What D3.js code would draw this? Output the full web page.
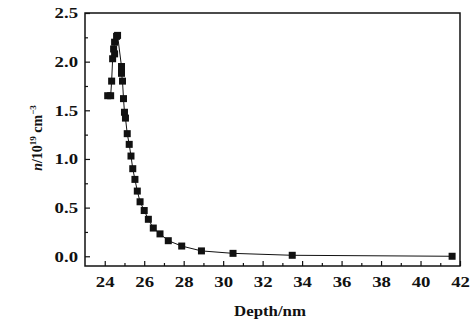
<!DOCTYPE html>
<html><head><meta charset="utf-8">
<script src="https://cdn.jsdelivr.net/npm/d3@7"></script>
<style>
html,body{margin:0;padding:0;background:#fff;}
text{font-family:"Liberation Serif","DejaVu Serif",serif;font-weight:bold;fill:#111;}
</style></head>
<body>
<svg id="c" width="472" height="322"></svg>
<script>
const depth = [24.15,24.3,24.35,24.4,24.5,24.45,24.5,24.6,24.65,24.85,24.85,24.9,24.95,25.0,25.05,25.14,25.24,25.33,25.42,25.53,25.65,25.79,26.0,26.21,26.46,26.8,27.22,27.9,28.9,30.5,33.5,41.6];
const conc  = [1.65,1.65,1.80,2.03,2.08,2.13,2.20,2.26,2.27,1.95,1.88,1.80,1.62,1.48,1.42,1.26,1.15,1.03,0.90,0.79,0.67,0.56,0.47,0.38,0.29,0.23,0.16,0.105,0.055,0.03,0.01,0.0];
const xTicks = [24,26,28,30,32,34,36,38,40,42];
const yTicks = [0.0,0.5,1.0,1.5,2.0,2.5];
const xMinor = [25,27,29,31,33,35,37,39,41];
const yMinor = [0.25,0.75,1.25,1.75,2.25];

const svg = d3.select("#c");
const L=85,R=460,T=13,B=266;
const x = d3.scaleLinear().domain([23,42]).range([L,R]);
const y = d3.scaleLinear().domain([-0.1,2.5]).range([B,T]);
const SX = 1.25;

// frame
svg.append("rect").attr("x",L).attr("y",T).attr("width",R-L).attr("height",B-T)
  .attr("fill","none").attr("stroke","#111").attr("stroke-width",1.5);

// bottom axis
const gx = svg.append("g").attr("transform",`translate(0,${B})`)
  .call(d3.axisBottom(x).tickValues(xTicks).tickSize(-5).tickPadding(10).tickFormat(d3.format("d")));
gx.select(".domain").remove();
gx.selectAll("line").attr("stroke","#111").attr("stroke-width",1.2);
gx.selectAll("text").attr("font-size",15).attr("font-family","Liberation Serif").attr("font-weight","bold")
  .attr("transform",`scale(${SX},1)`).attr("fill","#111");
svg.append("g").attr("transform",`translate(0,${B})`)
  .call(d3.axisBottom(x).tickValues(xMinor).tickSize(-3).tickFormat(""))
  .call(g=>g.select(".domain").remove())
  .selectAll("line").attr("stroke","#111").attr("stroke-width",1.2);

// left axis
const gy = svg.append("g").attr("transform",`translate(${L},0)`)
  .call(d3.axisLeft(y).tickValues(yTicks).tickSize(-5).tickPadding(7).tickFormat(d3.format(".1f")));
gy.select(".domain").remove();
gy.selectAll("line").attr("stroke","#111").attr("stroke-width",1.2);
gy.selectAll("text").attr("font-size",15).attr("font-family","Liberation Serif").attr("font-weight","bold")
  .attr("transform",`scale(${SX},1)`).attr("x",-7/SX).attr("fill","#111");
svg.append("g").attr("transform",`translate(${L},0)`)
  .call(d3.axisLeft(y).tickValues(yMinor).tickSize(-3).tickFormat(""))
  .call(g=>g.select(".domain").remove())
  .selectAll("line").attr("stroke","#111").attr("stroke-width",1.2);

// data
const pts = depth.map((d,i)=>[d,conc[i]]);
svg.append("path").datum(pts)
  .attr("d",d3.line().x(d=>x(d[0])).y(d=>y(d[1])))
  .attr("fill","none").attr("stroke","#111").attr("stroke-width",1);
const s=7;
svg.append("g").selectAll("rect").data(pts).join("rect")
  .attr("x",d=>x(d[0])-s/2).attr("y",d=>y(d[1])-s/2)
  .attr("width",s).attr("height",s).attr("fill","#111");

// titles
svg.append("text").attr("transform",`translate(${270},316) scale(1.2,1)`)
  .attr("text-anchor","middle").attr("font-size",14).text("Depth/nm");

const yt = svg.append("text").attr("transform",`translate(42,138) rotate(-90)`)
  .attr("text-anchor","middle").attr("font-size",14);
yt.append("tspan").attr("font-style","italic").text("n");
yt.append("tspan").text("/10");
yt.append("tspan").attr("font-size",9).attr("dy",-6).text("19");
yt.append("tspan").attr("dy",6).text(" cm");
yt.append("tspan").attr("font-size",9).attr("dy",-6).text("−3");
</script>
</body></html>
